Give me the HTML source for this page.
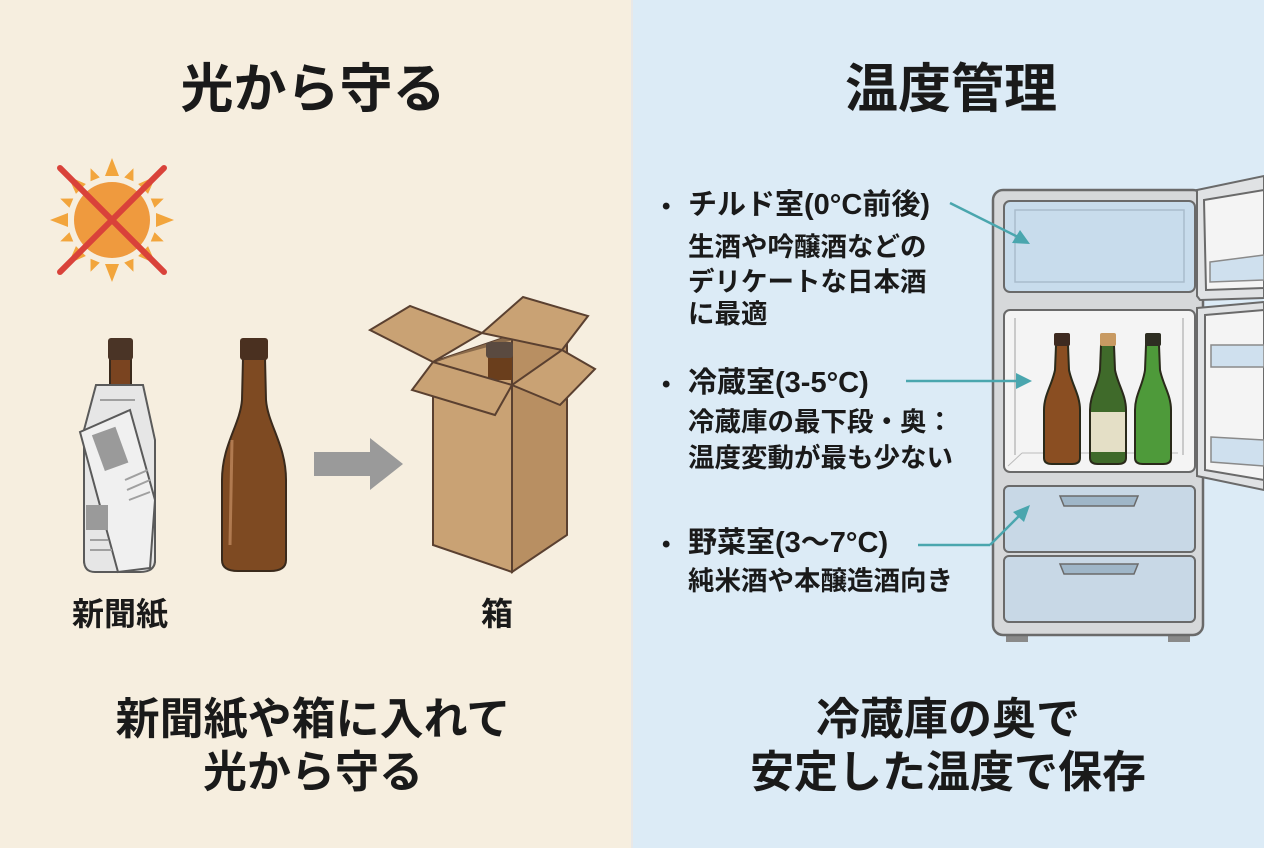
<!DOCTYPE html>
<html><head><meta charset="utf-8"><style>
html,body{margin:0;padding:0;width:1264px;height:848px;overflow:hidden}
svg{display:block}
text{font-family:"Liberation Sans","Noto Sans CJK JP",sans-serif;font-weight:bold;fill:#1a1a1a}
</style></head><body>
<svg width="1264" height="848" viewBox="0 0 1264 848">
<rect x="0" y="0" width="632" height="848" fill="#f6eedf"/>
<rect x="632" y="0" width="632" height="848" fill="#dcebf6"/>
<line x1="632" y1="0" x2="632" y2="848" stroke="#e8e8e8" stroke-width="2"/>

<text x="313" y="107" font-size="53" text-anchor="middle">光から守る</text>
<text x="951" y="107" font-size="53" text-anchor="middle">温度管理</text>

<!-- sun -->
<g transform="translate(112,220)">
<g fill="#f2a53c">
<polygon points="0,-62 -7,-44 7,-44"/><polygon points="0,62 -7,44 7,44"/>
<polygon points="-62,0 -44,-7 -44,7"/><polygon points="62,0 44,-7 44,7"/>
<g transform="rotate(45)"><polygon points="0,-62 -7,-44 7,-44"/><polygon points="0,62 -7,44 7,44"/><polygon points="-62,0 -44,-7 -44,7"/><polygon points="62,0 44,-7 44,7"/></g>
<g transform="rotate(22.5)"><polygon points="0,-56 -5,-44 5,-44"/><polygon points="0,56 -5,44 5,44"/><polygon points="-56,0 -44,-5 -44,5"/><polygon points="56,0 44,-5 44,5"/></g>
<g transform="rotate(67.5)"><polygon points="0,-56 -5,-44 5,-44"/><polygon points="0,56 -5,44 5,44"/><polygon points="-56,0 -44,-5 -44,5"/><polygon points="56,0 44,-5 44,5"/></g>
</g>
<circle r="38" fill="#ef9a3e"/>
<line x1="-52" y1="-52" x2="52" y2="52" stroke="#d9423a" stroke-width="6" stroke-linecap="round"/>
<line x1="52" y1="-52" x2="-52" y2="52" stroke="#d9423a" stroke-width="6" stroke-linecap="round"/>
</g>

<!-- wrapped bottle -->
<path d="M110,358 L131,358 L131,395 C131,415 155,440 155,470 L155,560 Q155,570 145,570 L94,570 Q84,570 84,560 L84,470 C84,440 110,415 110,395 Z" fill="#7a4420" stroke="#3a2a1c" stroke-width="2"/>
<rect x="108" y="338" width="25" height="22" rx="3" fill="#4a3426"/>
<path d="M96,385 L143,385 L155,440 L155,560 Q155,572 140,572 L95,572 Q84,572 84,560 L84,430 Z" fill="#e6e6e6" stroke="#5a5a5a" stroke-width="2"/>
<path d="M80,432 L130,410 L155,500 L150,568 L118,572 Z" fill="#f0f0f0" stroke="#5a5a5a" stroke-width="2"/>
<rect x="98" y="430" width="25" height="38" fill="#9a9a9a" transform="rotate(-20 110 450)"/>
<rect x="86" y="505" width="22" height="25" fill="#9a9a9a"/>
<g stroke="#a0a0a0" stroke-width="2">
<line x1="125" y1="480" x2="148" y2="470"/><line x1="127" y1="490" x2="150" y2="480"/><line x1="129" y1="500" x2="150" y2="492"/>
<line x1="90" y1="540" x2="108" y2="540"/><line x1="90" y1="550" x2="112" y2="550"/><line x1="100" y1="400" x2="135" y2="400"/>
</g>
<!-- brown bottle -->
<path d="M243,358 L265,358 L266,400 C268,425 286,445 286,480 L286,560 Q286,571 270,571 L238,571 Q222,571 222,560 L222,480 C222,445 240,425 242,400 Z" fill="#7e4a22" stroke="#3a2a1c" stroke-width="2"/>
<rect x="240" y="338" width="28" height="22" rx="3" fill="#4a3020"/>
<line x1="232" y1="440" x2="230" y2="545" stroke="#b07a50" stroke-width="3"/>

<!-- arrow -->
<polygon points="314,452 370,452 370,438 403,464 370,490 370,476 314,476" fill="#9a9a9a"/>

<!-- box -->
<polygon points="433,362 512,335 512,572 433,545" fill="#c9a274" stroke="#5a4030" stroke-width="2"/>
<polygon points="512,335 567,325 567,535 512,572" fill="#b88f62" stroke="#5a4030" stroke-width="2"/>
<polygon points="433,362 512,335 567,325 495,345" fill="#8a6a4a"/>
<rect x="488" y="345" width="24" height="35" fill="#6a3e1c"/>
<rect x="486" y="342" width="27" height="16" rx="3" fill="#5a4a40"/>
<polygon points="433,362 370,330 410,306 482,333" fill="#c9a274" stroke="#5a4030" stroke-width="2"/>
<polygon points="482,333 523,297 588,316 562,350" fill="#c9a274" stroke="#5a4030" stroke-width="2"/>
<polygon points="433,362 412,390 495,415 512,385" fill="#c9a274" stroke="#5a4030" stroke-width="2"/>
<polygon points="562,350 595,369 560,405 512,385" fill="#c9a274" stroke="#5a4030" stroke-width="2"/>

<text x="120" y="625" font-size="32" text-anchor="middle">新聞紙</text>
<text x="497" y="625" font-size="32" text-anchor="middle">箱</text>
<text x="313" y="734" font-size="44" text-anchor="middle">新聞紙や箱に入れて</text>
<text x="313" y="787" font-size="44" text-anchor="middle">光から守る</text>

<!-- right texts -->
<g>
<text x="662" y="214" font-size="24">•</text><text x="688" y="214" font-size="29">チルド室(0°C前後)</text>
<text x="688" y="256" font-size="26.5">生酒や吟醸酒などの</text>
<text x="688" y="291" font-size="26.5">デリケートな日本酒</text>
<text x="688" y="323" font-size="26.5">に最適</text>
<text x="662" y="392" font-size="24">•</text><text x="688" y="392" font-size="29">冷蔵室(3-5°C)</text>
<text x="688" y="431" font-size="26.5">冷蔵庫の最下段・奥：</text>
<text x="688" y="467" font-size="26.5">温度変動が最も少ない</text>
<text x="662" y="552" font-size="24">•</text><text x="688" y="552" font-size="29">野菜室(3〜7°C)</text>
<text x="688" y="590" font-size="26.5">純米酒や本醸造酒向き</text>
</g>
<text x="948" y="734" font-size="44" text-anchor="middle">冷蔵庫の奥で</text>
<text x="948" y="787" font-size="44" text-anchor="middle">安定した温度で保存</text>

<!-- fridge -->
<rect x="1006" y="632" width="22" height="10" fill="#8a8a8a"/>
<rect x="1168" y="632" width="22" height="10" fill="#8a8a8a"/>
<rect x="993" y="190" width="210" height="445" rx="10" fill="#d6d8da" stroke="#6a6a6a" stroke-width="2.5"/>
<rect x="1004" y="201" width="191" height="91" rx="6" fill="#c8dcec" stroke="#6a6a6a" stroke-width="2"/>
<rect x="1015" y="210" width="169" height="72" fill="none" stroke="#a9bccc" stroke-width="1.5"/>
<rect x="1004" y="310" width="191" height="162" rx="6" fill="#f4f4f4" stroke="#6a6a6a" stroke-width="2"/>
<line x1="1015" y1="318" x2="1015" y2="455" stroke="#bbb" stroke-width="1.5"/>
<line x1="1183" y1="318" x2="1183" y2="455" stroke="#bbb" stroke-width="1.5"/>
<line x1="1008" y1="466" x2="1022" y2="453" stroke="#bbb"/><line x1="1022" y1="453" x2="1178" y2="453" stroke="#bbb"/>
<rect x="1004" y="486" width="191" height="66" rx="5" fill="#c8d8e6" stroke="#6a6a6a" stroke-width="2"/>
<rect x="1004" y="556" width="191" height="66" rx="5" fill="#c8d8e6" stroke="#6a6a6a" stroke-width="2"/>
<path d="M1060,496 L1138,496 L1134,506 L1064,506 Z" fill="#9fb6c8" stroke="#6a6a6a" stroke-width="1.5"/>
<path d="M1060,564 L1138,564 L1134,574 L1064,574 Z" fill="#9fb6c8" stroke="#6a6a6a" stroke-width="1.5"/>
<!-- doors -->
<polygon points="1197,190 1264,176 1264,298 1200,300 1197,296" fill="#e0e2e4" stroke="#6a6a6a" stroke-width="2"/>
<polygon points="1204,200 1264,190 1264,288 1206,290" fill="#f4f4f4" stroke="#6a6a6a" stroke-width="2"/>
<polygon points="1210,262 1264,255 1264,280 1210,282" fill="#cfe0ee" stroke="#8a8a8a" stroke-width="1.5"/>
<polygon points="1197,308 1264,302 1264,490 1197,476" fill="#e0e2e4" stroke="#6a6a6a" stroke-width="2"/>
<polygon points="1205,315 1264,310 1264,480 1205,470" fill="#f4f4f4" stroke="#6a6a6a" stroke-width="2"/>
<rect x="1211" y="345" width="53" height="22" fill="#cfe0ee" stroke="#8a8a8a" stroke-width="1.5"/>
<polygon points="1211,437 1264,440 1264,466 1211,462" fill="#cfe0ee" stroke="#8a8a8a" stroke-width="1.5"/>
<!-- fridge bottles -->
<g stroke="#2a2a1a" stroke-width="2">
<path d="M1056,345 L1068,345 L1069,370 C1072,385 1080,395 1080,410 L1080,458 Q1080,464 1072,464 L1052,464 Q1044,464 1044,458 L1044,410 C1044,395 1052,385 1055,370 Z" fill="#8a4e22"/>
<path d="M1101,345 L1114,345 L1115,370 C1118,385 1126,395 1126,410 L1126,458 Q1126,464 1118,464 L1098,464 Q1090,464 1090,458 L1090,410 C1090,395 1098,385 1100,370 Z" fill="#3f6a2a"/>
<path d="M1146,345 L1159,345 L1160,370 C1163,385 1171,395 1171,410 L1171,458 Q1171,464 1163,464 L1143,464 Q1135,464 1135,458 L1135,410 C1135,395 1143,385 1145,370 Z" fill="#4e9a3a"/>
</g>
<rect x="1091" y="412" width="34" height="40" fill="#e4dfc6"/>
<rect x="1054" y="333" width="16" height="13" rx="2" fill="#3e2a20"/>
<rect x="1100" y="333" width="16" height="13" rx="2" fill="#c89a62"/>
<rect x="1145" y="333" width="16" height="13" rx="2" fill="#2e2e22"/>
<!-- arrows -->
<g stroke="#4aa6ae" stroke-width="2.5" fill="#4aa6ae">
<line x1="950" y1="203" x2="1020" y2="238"/><polygon points="1030,244 1012,243 1020,230" stroke="none"/>
<line x1="906" y1="381" x2="1020" y2="381"/><polygon points="1032,381 1016,373 1016,389" stroke="none"/>
<line x1="918" y1="545" x2="990" y2="545"/><line x1="990" y1="545" x2="1020" y2="515"/><polygon points="1030,505 1024,522 1013,512" stroke="none"/>
</g>
</svg>
</body></html>
